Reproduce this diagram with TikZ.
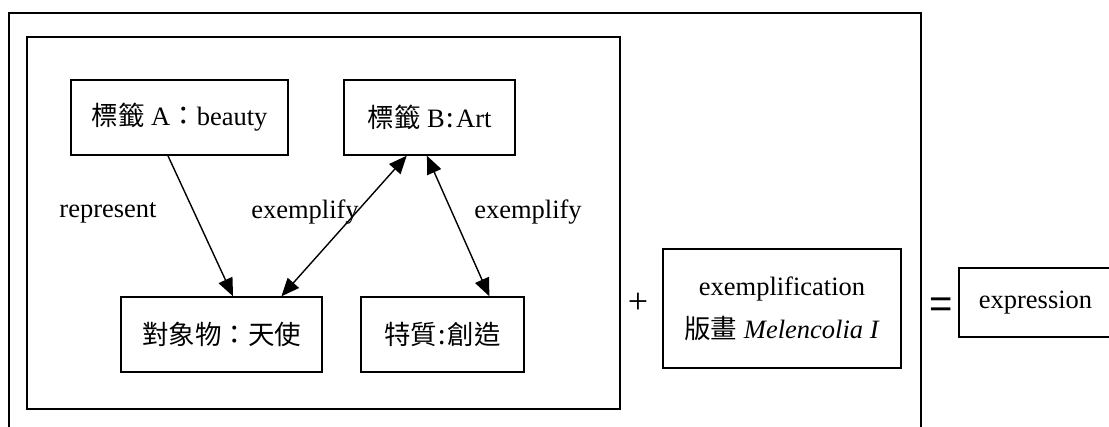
\documentclass[tikz,border=0pt]{standalone}
\usepackage{fontspec}
\setmainfont{Liberation Serif}
\newfontfamily\cjk{Noto Sans CJK TC}
\newfontfamily\eqfont{Liberation Sans}
\usetikzlibrary{arrows.meta,calc}
\tikzset{
  box/.style={draw, line width=1.4pt, inner sep=0pt, font={\fontsize{26.5}{30}\selectfont}},
  lbl/.style={inner sep=0pt, font={\fontsize{26.5}{30}\selectfont}},
  arr/.style={line width=1.4pt, -{Triangle[length=18pt,width=15pt]}},
  darr/.style={line width=1.4pt, {Triangle[length=18pt,width=15pt]}-{Triangle[length=18pt,width=15pt]}},
  frame/.style={line width=2pt},
  inframe/.style={line width=1.4pt}
}
\begin{document}
\begin{tikzpicture}[x=1pt,y=-1pt]
\clip (0,0) rectangle (1109,426);
\useasboundingbox (0,0) rectangle (1109,426);
% outer open frame
\draw[frame] (9,430) -- (9,13) -- (921,13) -- (921,430);
% inner frame
\draw[inframe] (27,37) rectangle (620,409);
% nodes
\node[box, minimum width=217pt, minimum height=75pt] (A) at (179.5,117.5) {{\cjk 標籤} A{\cjk ：}beauty};
\node[box, minimum width=171pt, minimum height=75pt] (B) at (429.5,117.5) {{\cjk 標籤} B\kern2pt{\cjk :}\kern2pt Art};
\node[box, minimum width=201pt, minimum height=75pt] (O) at (221.5,334.5) {{\cjk 對象物：天使}};
\node[box, minimum width=163pt, minimum height=75pt] (Q) at (442.5,334.5) {{\cjk 特質\kern1.5pt:\kern1.5pt 創造}};
\node[box, minimum width=238pt, minimum height=119pt, align=center, font={\fontsize{26.5}{43}\selectfont}] (E) at (782,308.5) {exemplification\\{\cjk 版畫} \textit{Melencolia I}};
\node[box, minimum width=153pt, minimum height=69pt] (X) at (1035.5,302.5) {expression};
% connectors
\draw[arr] ($(A.south west)!0.447!(A.south east)$) -- ($(O.north west)!0.557!(O.north east)$);
\draw[darr] ($(B.south west)!0.368!(B.south east)$) -- ($(O.north west)!0.796!(O.north east)$);
\draw[darr] ($(B.south west)!0.485!(B.south east)$) -- ($(Q.north west)!0.785!(Q.north east)$);
% labels
\node[lbl] (l1) at (108,213) {represent};
\node[lbl] (l2) at (305,212) {exemplify};
\node[lbl] (l3) at (528,212) {exemplify};
\node[inner sep=0pt, font={\fontsize{36}{40}\selectfont}] (plus) at (638,303) {+};
\node[inner sep=0pt, font={\eqfont\fontsize{40}{44}\selectfont}] (eq) at (941,308) {=};
\end{tikzpicture}
\end{document}
